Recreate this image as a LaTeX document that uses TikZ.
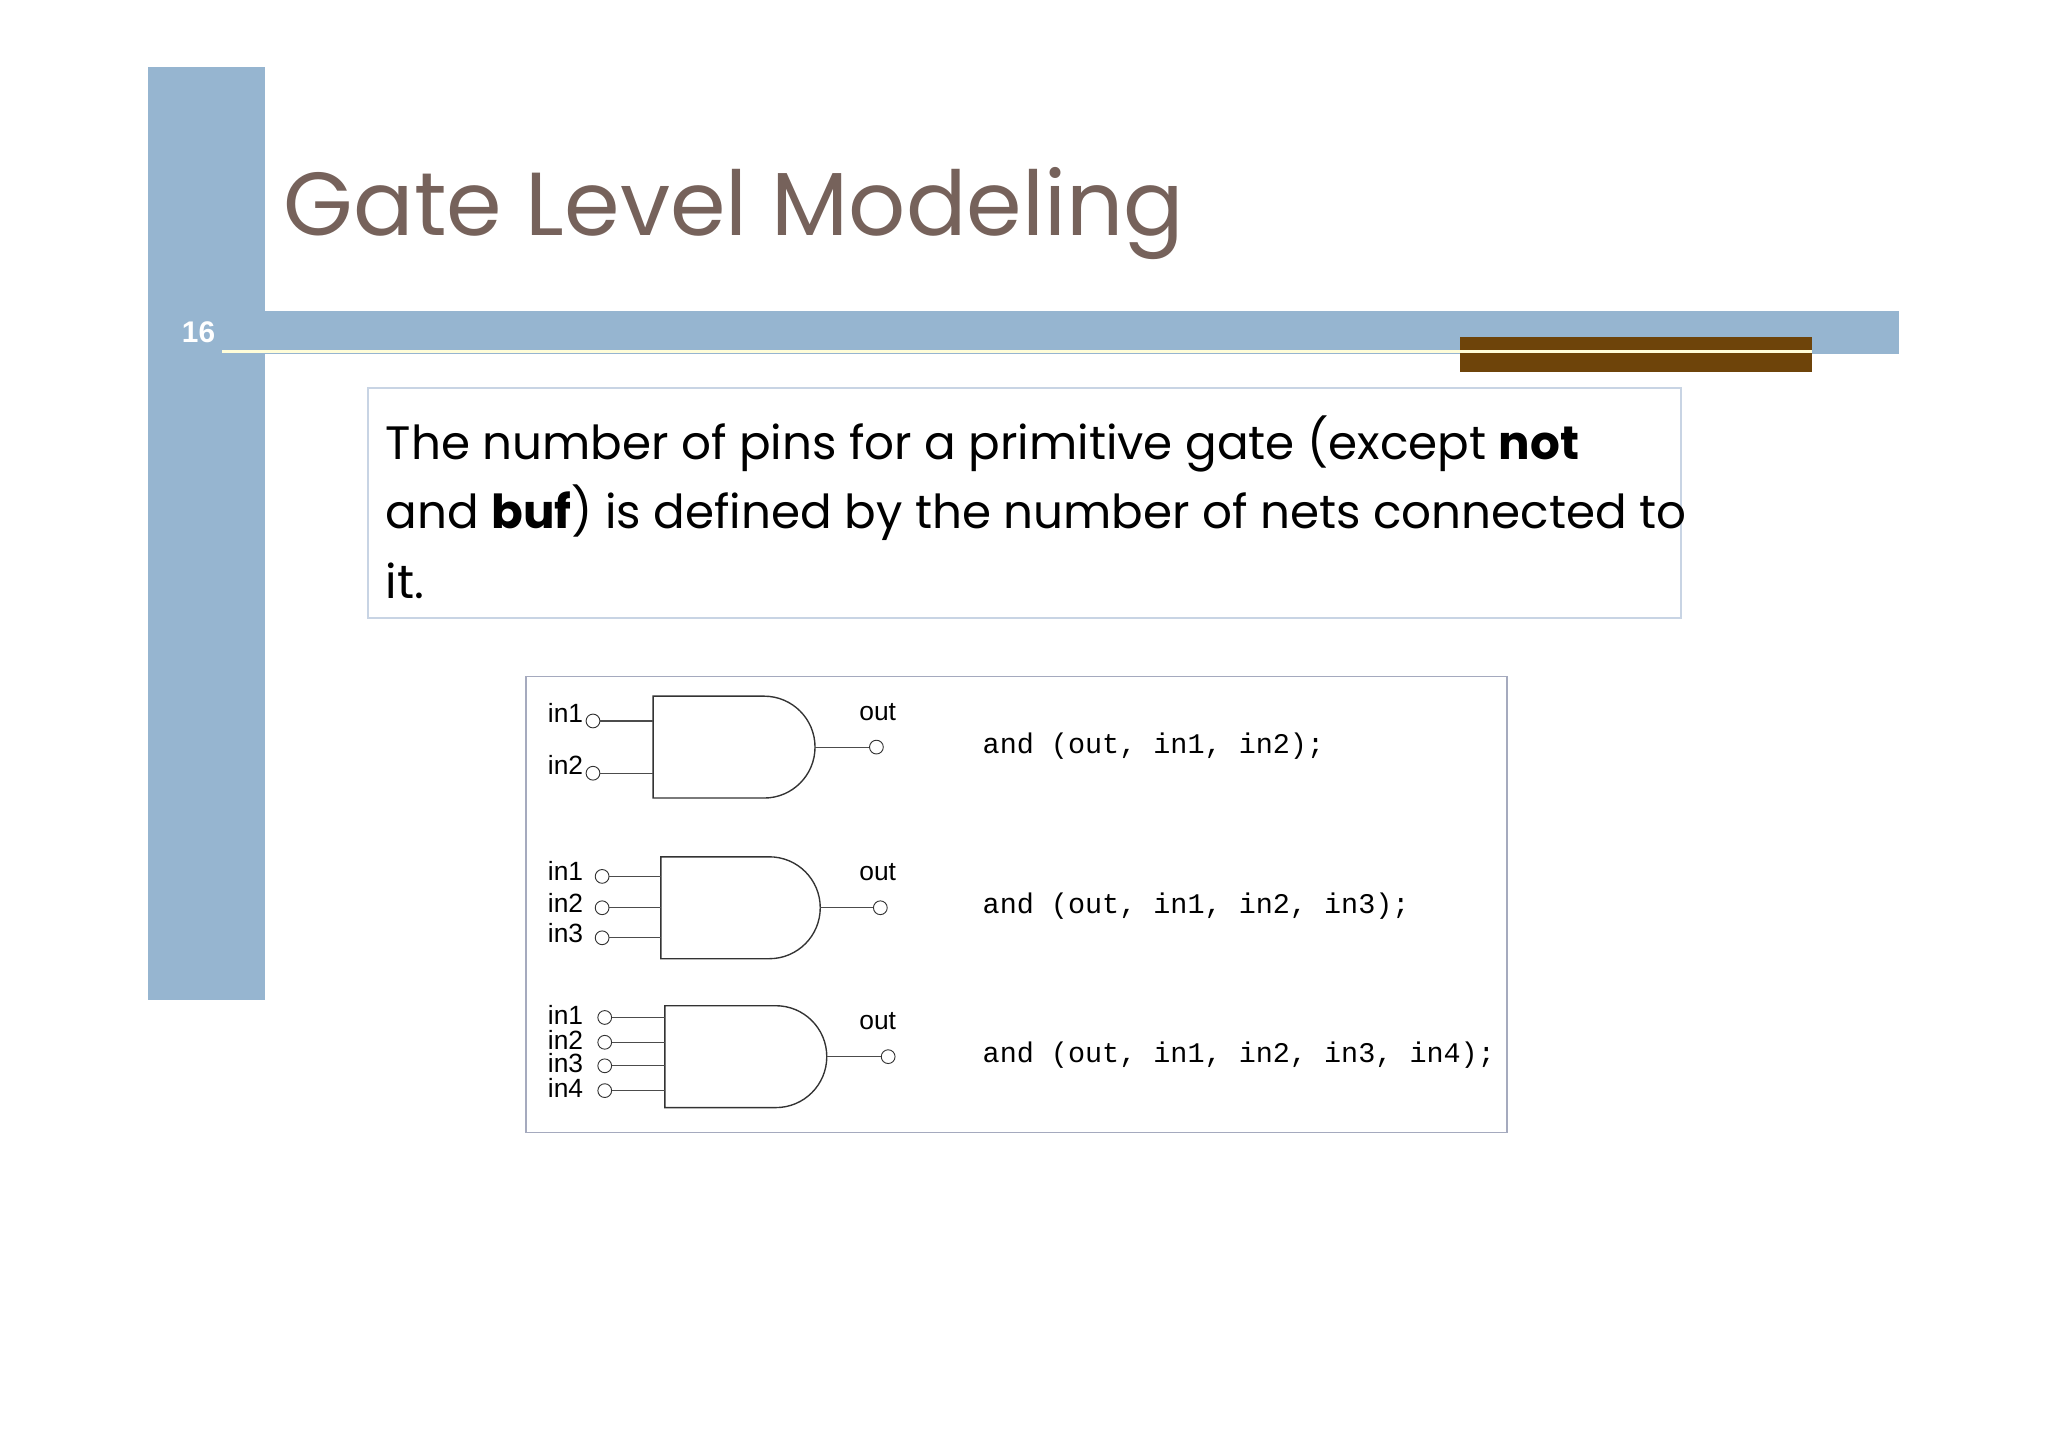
\documentclass[tikz,border=0pt]{standalone}
\usepackage{fontspec}
\setmainfont{Poppins}
\newfontfamily\labelfont{Liberation Sans}
\newfontfamily\codefont{Liberation Mono}
\usetikzlibrary{calc}
\definecolor{barblue}{RGB}{150,181,208}
\definecolor{titlebrown}{RGB}{118,98,91}
\definecolor{darkbrown}{RGB}{110,68,10}
\definecolor{boxline}{RGB}{200,212,228}
\definecolor{figline}{RGB}{165,170,190}
\tikzset{
  pin/.style = {circle, draw = black!80, fill = white, inner sep = 0pt, minimum size = 6},
  pinlabel/.style = {font = \labelfont\fontsize{11.5}{11.5}\selectfont, inner sep = 0pt},
  codeline/.style = {font = \codefont\fontsize{12.4}{12.4}\selectfont, anchor = west, inner sep = 0pt},
  gate/.style = {draw = black!80, line width = 0.6pt},
  wire/.style = {draw = black!70, line width = 0.5pt}
}
\begin{document}
\begin{tikzpicture}[x = 0.02cm, y = -0.02cm]

\useasboundingbox (0,0) rectangle (1568,1108);

% slide frame
\fill[barblue] (113,51) rectangle (203,766);
\fill[barblue] (203,238) rectangle (1454,271);
\fill[darkbrown] (1118,258) rectangle (1387,285);
\draw[yellow!15!white, line width = 1.2pt] (170,269) -- (1387,269);
\node[text = white, font = \labelfont\bfseries\fontsize{13}{13}\selectfont] (num) at (152,254) {16};

\node[anchor = base west, text = titlebrown, inner sep = 0pt,
      font = \fontsize{39}{39}\selectfont] (title) at (217,180) {Gate Level Modeling};

% text box
\draw[boxline, line width = 1pt] (282,297) rectangle (1287,473);
\node[anchor = north west, inner sep = 0pt, align = left,
      font = \fontsize{20.4}{30.2}\selectfont] (para) at (295,318)
  {The number of pins for a primitive gate (except \textbf{not}\\
   and \textbf{buf}) is defined by the number of nets connected to\\
   it.};

% figure
\draw[figline, line width = 0.8pt] (403,518) rectangle (1154,867);

\foreach \X/\TOP/\TIP/\PX/\OX/\G/\CODE in {
      500/533/624/454/671/a/{and (out, in1, in2);},
      506/656/628/461/674/b/{and (out, in1, in2, in3);},
      509/770/633/463/680/c/{and (out, in1, in2, in3, in4);}}{
    \pgfmathsetmacro{\BOT}{\TOP+78}
    \pgfmathsetmacro{\MID}{\TOP+39}
    \pgfmathsetmacro{\FLAT}{\TIP-39}
    \draw[gate] (\X,\TOP) -- (\FLAT,\TOP) arc (-90:90:39) -- (\X,\BOT) -- cycle;
    \coordinate (tip\G) at (\TIP,\MID);
    \node[pin] (out\G) at (\OX,\MID) {};
    \draw[wire] (tip\G) -- (out\G);
    \node[pinlabel] (outlbl\G) at (672,\TOP+12) {out};
    \node[codeline] (code\G) at (752,\MID-1) {\CODE};
}

% pins of gate a
\foreach \Y/\N in {552/1, 592/2}{
    \node[pin] (pina\N) at (454,\Y) {};
    \coordinate (enda\N) at (500,\Y);
    \draw[wire] (pina\N) -- (enda\N);
    \node[pinlabel] (lbla\N) at (433,\Y-6) {in\N};
}
% pins of gate b
\foreach \Y/\N in {671/1, 695/2, 718/3}{
    \node[pin] (pinb\N) at (461,\Y) {};
    \coordinate (endb\N) at (506,\Y);
    \draw[wire] (pinb\N) -- (endb\N);
    \node[pinlabel] (lblb\N) at (433,\Y-4) {in\N};
}
% pins of gate c
\foreach \Y/\N in {779/1, 798/2, 816/3, 835/4}{
    \node[pin] (pinc\N) at (463,\Y) {};
    \coordinate (endc\N) at (509,\Y);
    \draw[wire] (pinc\N) -- (endc\N);
    \node[pinlabel] (lblc\N) at (433,\Y-2) {in\N};
}

\end{tikzpicture}
\end{document}
